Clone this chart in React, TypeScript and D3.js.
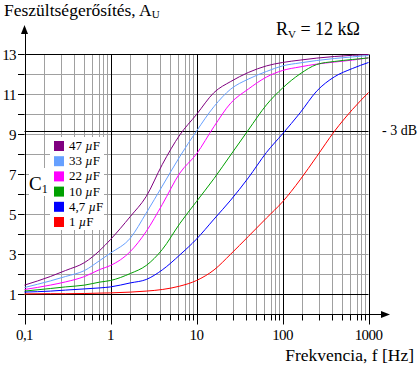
import React from 'react';
import * as d3 from 'd3';

const freqs = [0.1, 0.2, 0.3, 0.5, 0.75, 1, 1.7, 2.6, 4, 6.4, 10, 16, 25, 40, 65, 100, 160, 250, 400, 650, 1000];

// voltage gain A_U for each coupling capacitor
const gain47 = [1.47, 1.9, 2.2, 2.6, 3.2, 3.75, 4.9, 5.9, 7.5, 8.98, 10.0, 11.1, 11.65, 12.1, 12.43, 12.6, 12.72, 12.82, 12.9, 12.96, 13.0];
const gain33 = [1.35, 1.68, 1.9, 2.2, 2.7, 3.07, 3.82, 5.07, 6.42, 7.9, 9.17, 10.4, 11.27, 11.77, 12.15, 12.43, 12.58, 12.7, 12.8, 12.88, 12.95];
const gain22 = [1.25, 1.47, 1.63, 1.9, 2.25, 2.45, 3.15, 4.15, 5.5, 7.07, 8.03, 9.4, 10.57, 11.27, 11.87, 12.2, 12.38, 12.52, 12.62, 12.72, 12.83];
const gain10 = [1.17, 1.3, 1.38, 1.47, 1.62, 1.7, 2.05, 2.45, 3.25, 4.55, 5.65, 6.8, 7.98, 9.22, 10.48, 11.32, 12.03, 12.5, 12.65, 12.75, 12.83];
const gain4_7 = [1.12, 1.17, 1.22, 1.28, 1.33, 1.38, 1.58, 1.75, 2.23, 2.98, 3.77, 4.77, 5.72, 6.83, 8.1, 9.03, 10.08, 11.17, 11.88, 12.3, 12.6];
const gain1 = [1.03, 1.04, 1.04, 1.05, 1.07, 1.08, 1.12, 1.17, 1.25, 1.42, 1.7, 2.23, 3.02, 3.9, 4.82, 5.63, 6.73, 7.9, 9.15, 10.25, 11.1];

const seriesLabels = ['47', '33', '22', '10', '4,7', '1'];
const seriesValues = [gain47, gain33, gain22, gain10, gain4_7, gain1];
const colors = ['#800080', '#66a0ff', '#ff00ff', '#00a000', '#0000ff', '#ff0000'];

// axis ticks
const decades = [0.1, 1, 10, 100, 1000];
const decadeLabels = ['0,1', '1', '10', '100', '1000'];
const minorSteps = [1.7, 2.66, 3.76, 4.93, 6.12, 7.26, 8.28, 9.12];
const yTicks = d3.range(0, 14);
const yLabels = [1, 3, 5, 7, 9, 11, 13];
const minus3dB = 9.19;

const font = '"Liberation Serif", "Times New Roman", serif';
const gray = '#a0a0a0';

export default function App() {
  const x = d3.scaleLog().domain([0.1, 1000]).range([24.5, 368.5]);
  const y = d3.scaleLinear().domain([0, 13]).range([314.5, 54.5]);

  const minors = decades.slice(0, -1).flatMap(d => minorSteps.map(s => d * s));
  const line = d3.line<number>()
    .x((_, i) => x(freqs[i]))
    .y(v => y(v))
    .curve(d3.curveMonotoneX);

  const x0 = x(0.1), x1 = x(1000), yTop = y(13), yBot = y(0);

  return (
    <svg width={418} height={365} style={{ position: 'absolute', left: 0, top: 0, background: '#fff' }}
      fontFamily={font}>
      {/* gray grid */}
      {minors.map(f => (
        <line key={'mg' + f} x1={Math.round(x(f)) + 0.5} x2={Math.round(x(f)) + 0.5} y1={yTop} y2={yBot} stroke={gray} />
      ))}
      {yTicks.filter(v => v !== 0 && v !== 1 && v !== 13).map(v => (
        <line key={'hg' + v} x1={x0} x2={x1} y1={y(v)} y2={y(v)} stroke={gray} />
      ))}

      {/* minor ticks below axis */}
      {minors.map(f => (
        <line key={'mt' + f} x1={Math.round(x(f)) + 0.5} x2={Math.round(x(f)) + 0.5} y1={yBot} y2={yBot + 6} stroke="#000" />
      ))}

      {/* black grid lines */}
      {decades.map(d => (
        <line key={'d' + d} x1={Math.round(x(d)) + 0.5} x2={Math.round(x(d)) + 0.5} y1={d === 0.1 ? 33 : yTop} y2={yBot + 10} stroke="#000" />
      ))}
      {[1, 13].map(v => (
        <line key={'hb' + v} x1={x0} x2={x1} y1={y(v)} y2={y(v)} stroke="#000" />
      ))}
      <line x1={x0} x2={x1} y1={Math.round(y(minus3dB)) + 0.5} y2={Math.round(y(minus3dB)) + 0.5} stroke="#000" />

      {/* x axis with arrow */}
      <line x1={18} x2={383} y1={yBot} y2={yBot} stroke="#000" />
      <path d={`M390,${yBot} L381,${yBot - 3.5} L381,${yBot + 3.5} Z`} fill="#000" />
      {/* y arrow */}
      <path d={`M${x0},25 L${x0 - 3.5},34 L${x0 + 3.5},34 Z`} fill="#000" />

      {/* y ticks */}
      {yTicks.map(v => (
        <line key={'yt' + v} x1={18} x2={x0} y1={y(v)} y2={y(v)} stroke="#000" />
      ))}
      {yLabels.map(v => (
        <text key={'yl' + v} x={16} y={y(v) + 5} textAnchor="end" fontSize={15} letterSpacing={-0.6}>{v}</text>
      ))}
      {decades.map((d, i) => (
        <text key={'xl' + d} x={x(d)} y={340} textAnchor="middle" fontSize={15} letterSpacing={-0.6}>{decadeLabels[i]}</text>
      ))}

      {/* curves */}
      {seriesValues.map((vals, i) => (
        <path key={'s' + i} d={line(vals) || ''} fill="none" stroke={colors[i]} strokeWidth={1} />
      ))}

      {/* legend */}
      <rect x={50} y={137} width={54} height={93} fill="#fff" />
      <rect x={29} y={168} width={22} height={28} fill="#fff" />
      {seriesLabels.map((l, i) => (
        <g key={'lg' + i} transform={`translate(54,${141 + i * 15.2})`}>
          <rect x={0} y={0} width={10} height={10} fill={colors[i]} />
          <text x={15} y={9} fontSize={13}>{l + ' '}<tspan fontStyle="italic">µ</tspan>F</text>
        </g>
      ))}
      <text x={29} y={190} fontSize={19}>C<tspan fontSize={12} dy={3}>1</tspan></text>

      {/* titles */}
      <text x={4} y={16} fontSize={17.5}>Feszültségerősítés, A<tspan fontSize={11} dy={2}>U</tspan></text>
      <text x={276} y={35} fontSize={18}>R<tspan fontSize={11} dy={3}>V</tspan><tspan dy={-3}> = 12 kΩ</tspan></text>
      <text x={382} y={135} fontSize={14}>- 3 dB</text>
      <text x={414} y={361} textAnchor="end" fontSize={17.5}>Frekvencia, f [Hz]</text>
    </svg>
  );
}
